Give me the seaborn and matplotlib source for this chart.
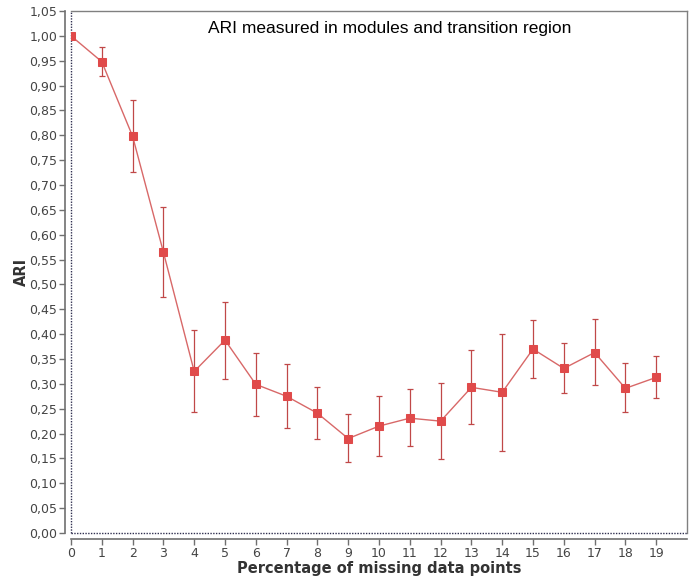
import numpy as np
import pandas as pd
import matplotlib
matplotlib.use("Agg")
import matplotlib.pyplot as plt
import seaborn as sns
from matplotlib.ticker import FuncFormatter, MultipleLocator

# values
missing_pct = list(range(20))
ari = [1.000, 0.948, 0.798, 0.565, 0.325, 0.388, 0.299, 0.275, 0.241, 0.190,
       0.215, 0.231, 0.225, 0.293, 0.283, 0.370, 0.331, 0.363, 0.291, 0.313]
ari_low = [1.000, 0.920, 0.726, 0.475, 0.243, 0.309, 0.235, 0.211, 0.190, 0.142,
           0.155, 0.175, 0.148, 0.219, 0.164, 0.311, 0.281, 0.297, 0.243, 0.271]
ari_high = [1.000, 0.977, 0.870, 0.655, 0.409, 0.464, 0.363, 0.339, 0.293, 0.240,
            0.275, 0.289, 0.301, 0.368, 0.400, 0.428, 0.382, 0.430, 0.341, 0.357]

df = pd.DataFrame({"pct": missing_pct, "ari": ari, "low": ari_low, "high": ari_high})

sns.set_style("white")
plt.rcParams["font.family"] = ["DejaVu Sans"]

fig = plt.figure(figsize=(6.98, 5.87), dpi=100)
ax = fig.add_axes([71 / 698, 1 - 533 / 587, 616 / 698, 522 / 587])

yerr = np.vstack([df["ari"] - df["low"], df["high"] - df["ari"]])
ax.errorbar(df["pct"], df["ari"], yerr=yerr, fmt="none", ecolor="#c04848",
            elinewidth=0.9, capsize=2.5, capthick=0.9, zorder=3)
sns.lineplot(data=df, x="pct", y="ari", ax=ax, color="#d86868", linewidth=1.0,
             marker="s", markersize=5.5, markerfacecolor="#e04a4a",
             markeredgecolor="#e04a4a", zorder=4)

ax.set_xlim(0, 20)
ax.set_ylim(0, 1.05)
ax.set_xticks(range(20))
ax.yaxis.set_major_locator(MultipleLocator(0.05))
ax.yaxis.set_major_formatter(FuncFormatter(lambda v, p: f"{v:.2f}".replace(".", ",")))

for s in ["top", "right"]:
    ax.spines[s].set_color("#808080")
    ax.spines[s].set_linewidth(1)
for s in ["left", "bottom"]:
    ax.spines[s].set_position(("outward", 4))
    ax.spines[s].set_color("#707070")
    ax.spines[s].set_linewidth(1.2)
    ax.spines[s].set_bounds(0, 20 if s == "bottom" else 1.05)

ax.axhline(0, color="#303050", linestyle=(0, (1, 1)), linewidth=1, zorder=2, clip_on=False)
ax.axvline(0, color="#303050", linestyle=(0, (1, 1)), linewidth=1, zorder=2, clip_on=False)

ax.tick_params(axis="both", direction="out", length=4, width=1, color="#707070",
               labelsize=9, labelcolor="#444444", pad=2, left=True, bottom=True)

ax.set_xlabel("Percentage of missing data points", fontsize=10.5, fontweight="bold",
              color="#333333", labelpad=1)
ax.set_ylabel("ARI", fontsize=10.5, fontweight="bold", color="#333333", labelpad=0)

ax.text(0.518, 0.967, "ARI measured in modules and transition region",
        transform=ax.transAxes, ha="center", va="center", fontsize=12.5,
        family=["Liberation Sans", "DejaVu Sans"], color="black")

fig.savefig("out.png", dpi=100)
